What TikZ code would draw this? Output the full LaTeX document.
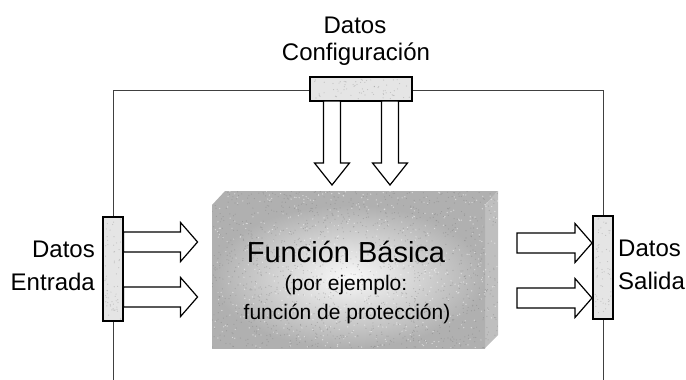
\documentclass[tikz,border=0pt]{standalone}
\usepackage{fontspec}
\setmainfont{Liberation Sans}
\begin{document}
\begin{tikzpicture}[x=1pt,y=-1pt,
  frame/.style={draw=black!75,line width=1pt},
  iobox/.style={draw=black,line width=1.1pt,fill=gray!20,inner sep=0pt,minimum width=#1},
  hollow/.style={draw=black,fill=white,line width=1.2pt,line join=miter},
  lbl/.style={inner sep=0pt,font=\fontsize{24}{28}\selectfont},
  title/.style={inner sep=0pt,font=\fontsize{29}{34}\selectfont},
  sub/.style={inner sep=0pt,font=\fontsize{21}{25}\selectfont},
  grain/.style={fill=black!50,opacity=0.35},
  pics/harrow/.style args={#1/#2}{code={
    \draw[hollow] (0,-10) -- (#1,-10) -- (#1,-19.5) -- (#2,0) -- (#1,19.5) -- (#1,10) -- (0,10) -- cycle;}},
  pics/varrow/.style args={#1/#2}{code={
    \draw[hollow] (-8.5,0) -- (-8.5,#1) -- (-17.5,#1) -- (0,#2) -- (17.5,#1) -- (8.5,#1) -- (8.5,0) -- cycle;}}
]
\useasboundingbox (0,0) rectangle (686,380);

% outer frame, open at the bottom
\coordinate (fbl) at (113,380);
\coordinate (ftl) at (113,90);
\coordinate (ftr) at (603,90);
\coordinate (fbr) at (603,380);
\draw[frame] (fbl) -- (ftl) -- (ftr) -- (fbr);

% main function block (3D slab)
\fill[gray!62] (212,205) -- (225,191) -- (498,191) -- (485,205) -- cycle;
\fill[gray!50] (485,205) -- (498,191) -- (498,335) -- (485,348) -- cycle;
\shade[inner color=gray!5, outer color=gray!62] (212,205) rectangle (485,348);
\pgfmathsetseed{7}
\begin{scope}
  \clip (212,205) -- (225,191) -- (498,191) -- (498,335) -- (485,348) -- (212,348) -- cycle;
  \foreach \i in {1,...,1400} {
    \fill[black!55,opacity=0.35] ({212+286*rnd},{191+157*rnd}) circle (0.6);
  }
  \foreach \i in {1,...,600} {
    \fill[white,opacity=0.5] ({212+286*rnd},{191+157*rnd}) circle (0.7);
  }
\end{scope}

% input / output / configuration ports
\node[iobox=20pt,minimum height=104pt] (inL) at (113,269) {};
\node[iobox=20pt,minimum height=103pt] (outR) at (603,267.5) {};
\node[iobox=102pt,minimum height=24pt] (cfg) at (361,89) {};
\foreach \bx/\by/\bw/\bh/\n in {104/218/18/102/60, 594/217/18/101/60, 311/78/100/22/70} {
  \foreach \i in {1,...,\n} {
    \fill[grain] ({\bx+1+(\bw-2)*rnd},{\by+1+(\bh-2)*rnd}) circle (0.6);
  }
}

% hollow data arrows
\pic at (inL.east |- 0,242) {harrow=57/74};
\pic at (inL.east |- 0,297) {harrow=57/74};
\pic at (517,243) {harrow=58/75};
\pic at (517,298) {harrow=58/75};
\pic at (332,101) {varrow=62/84};
\pic at (390,101) {varrow=62/84};

% labels
\node[lbl,anchor=base] (cfgA) at (355,33) {Datos};
\node[lbl,anchor=base] (cfgB) at (356,60) {Configuración};
\node[lbl,anchor=base east] (inA) at (95,257) {Datos};
\node[lbl,anchor=base east] (inB) at (95,290) {Entrada};
\node[lbl,anchor=base west] (outA) at (618,256) {Datos};
\node[lbl,anchor=base west] (outB) at (618,289) {Salida};
\node[title,anchor=base] (fn) at (346,262) {Función Básica};
\node[sub,anchor=base] (fnA) at (346,290) {(por ejemplo:};
\node[sub,anchor=base] (fnB) at (347,319) {función de protección)};
\end{tikzpicture}
\end{document}
